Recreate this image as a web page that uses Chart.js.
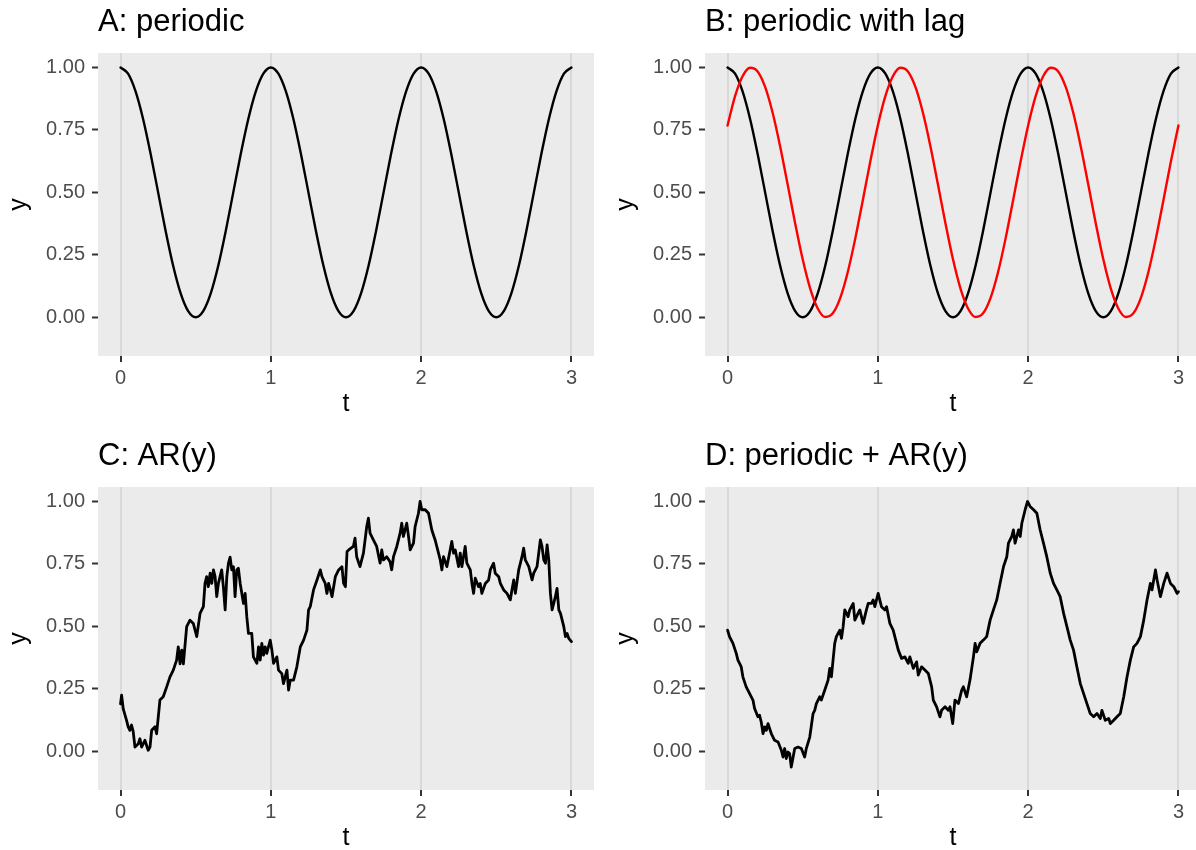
<!DOCTYPE html>
<html>
<head>
<meta charset="utf-8">
<script src="https://cdn.jsdelivr.net/npm/chart.js@4.4.1/dist/chart.umd.min.js"></script>
<style>
  body { margin: 0; background: #fff; width: 1196px; height: 850px; overflow: hidden; position: relative; }
  canvas { position: absolute; }
</style>
</head>
<body>
<canvas id="chartA" width="600" height="434" style="left:0px;top:0px"></canvas>
<canvas id="chartB" width="600" height="434" style="left:607px;top:0px"></canvas>
<canvas id="chartC" width="600" height="434" style="left:0px;top:434px"></canvas>
<canvas id="chartD" width="600" height="434" style="left:607px;top:434px"></canvas>
<script>
// axis ticks
const xTickValues = [0, 1, 2, 3];
const xTickLabels = ['0', '1', '2', '3'];
const yTickValues = [0, 0.25, 0.5, 0.75, 1];
const yTickLabels = ['0.00', '0.25', '0.50', '0.75', '1.00'];

// panels A and B: time grid and the two periodic curves
const tPeriodic = [
  0, 0.05, 0.1, 0.15, 0.2, 0.25, 0.3, 0.35, 0.4, 0.45,
  0.5, 0.55, 0.6, 0.65, 0.7, 0.75, 0.8, 0.85, 0.9, 0.95,
  1, 1.05, 1.1, 1.15, 1.2, 1.25, 1.3, 1.35, 1.4, 1.45,
  1.5, 1.55, 1.6, 1.65, 1.7, 1.75, 1.8, 1.85, 1.9, 1.95,
  2, 2.05, 2.1, 2.15, 2.2, 2.25, 2.3, 2.35, 2.4, 2.45,
  2.5, 2.55, 2.6, 2.65, 2.7, 2.75, 2.8, 2.85, 2.9, 2.95,
  3
];
const yPeriodic = [
  1, 0.9755, 0.9045, 0.7939, 0.6545, 0.5, 0.3455, 0.2061, 0.0955, 0.0245,
  0, 0.0245, 0.0955, 0.2061, 0.3455, 0.5, 0.6545, 0.7939, 0.9045, 0.9755,
  1, 0.9755, 0.9045, 0.7939, 0.6545, 0.5, 0.3455, 0.2061, 0.0955, 0.0245,
  0, 0.0245, 0.0955, 0.2061, 0.3455, 0.5, 0.6545, 0.7939, 0.9045, 0.9755,
  1, 0.9755, 0.9045, 0.7939, 0.6545, 0.5, 0.3455, 0.2061, 0.0955, 0.0245,
  0, 0.0245, 0.0955, 0.2061, 0.3455, 0.5, 0.6545, 0.7939, 0.9045, 0.9755,
  1
];
const yLagged = [
  0.7679, 0.8853, 0.9649, 0.999, 0.9843, 0.9222, 0.8187, 0.6841, 0.5314, 0.3757,
  0.2321, 0.1147, 0.0351, 0.001, 0.0157, 0.0778, 0.1813, 0.3159, 0.4686, 0.6243,
  0.7679, 0.8853, 0.9649, 0.999, 0.9843, 0.9222, 0.8187, 0.6841, 0.5314, 0.3757,
  0.2321, 0.1147, 0.0351, 0.001, 0.0157, 0.0778, 0.1813, 0.3159, 0.4686, 0.6243,
  0.7679, 0.8853, 0.9649, 0.999, 0.9843, 0.9222, 0.8187, 0.6841, 0.5314, 0.3757,
  0.2321, 0.1147, 0.0351, 0.001, 0.0157, 0.0778, 0.1813, 0.3159, 0.4686, 0.6243,
  0.7679
];

// panel C: AR(y)
const tAR = [
  0, 0.007, 0.018, 0.040, 0.051, 0.062, 0.073, 0.084, 0.096, 0.118,
  0.129, 0.140, 0.162, 0.184, 0.196, 0.207, 0.229, 0.240, 0.262, 0.284,
  0.307, 0.329, 0.351, 0.373, 0.384, 0.396, 0.407, 0.418, 0.440, 0.462,
  0.484, 0.507, 0.529, 0.551, 0.562, 0.573, 0.584, 0.596, 0.607, 0.618,
  0.629, 0.640, 0.651, 0.673, 0.684, 0.696, 0.707, 0.718, 0.729, 0.740,
  0.751, 0.762, 0.773, 0.784, 0.796, 0.818, 0.829, 0.840, 0.851, 0.873,
  0.884, 0.907, 0.918, 0.929, 0.940, 0.951, 0.962, 0.973, 0.996, 1.007,
  1.018, 1.040, 1.051, 1.073, 1.084, 1.107, 1.118, 1.129, 1.151, 1.173,
  1.196, 1.218, 1.240, 1.251, 1.262, 1.284, 1.307, 1.329, 1.340, 1.362,
  1.373, 1.384, 1.396, 1.407, 1.429, 1.451, 1.473, 1.484, 1.496, 1.507,
  1.518, 1.549, 1.560, 1.571, 1.593, 1.616, 1.638, 1.649, 1.660, 1.682,
  1.704, 1.727, 1.738, 1.749, 1.771, 1.793, 1.804, 1.816, 1.838, 1.860,
  1.871, 1.882, 1.904, 1.916, 1.927, 1.949, 1.960, 1.982, 1.993, 2.004,
  2.027, 2.049, 2.071, 2.093, 2.104, 2.127, 2.138, 2.149, 2.171, 2.193,
  2.204, 2.216, 2.227, 2.249, 2.260, 2.271, 2.293, 2.304, 2.327, 2.338,
  2.349, 2.360, 2.382, 2.393, 2.404, 2.427, 2.449, 2.460, 2.482, 2.493,
  2.516, 2.527, 2.549, 2.571, 2.593, 2.604, 2.616, 2.627, 2.649, 2.671,
  2.682, 2.693, 2.716, 2.738, 2.749, 2.771, 2.793, 2.804, 2.816, 2.827,
  2.838, 2.849, 2.860, 2.871, 2.882, 2.893, 2.904, 2.916, 2.927, 2.949,
  2.960, 2.971, 2.982, 3.000
];
const yAR = [
  0.19, 0.225, 0.17, 0.124, 0.098, 0.084, 0.105, 0.08, 0.017, 0.03,
  0.05, 0.017, 0.044, 0.004, 0.017, 0.084, 0.098, 0.07, 0.205, 0.218,
  0.258, 0.298, 0.325, 0.365, 0.418, 0.35, 0.405, 0.35, 0.499, 0.525,
  0.512, 0.459, 0.552, 0.579, 0.672, 0.699, 0.659, 0.713, 0.672, 0.726,
  0.699, 0.619, 0.672, 0.726, 0.659, 0.566, 0.699, 0.753, 0.777, 0.726,
  0.739, 0.619, 0.726, 0.733, 0.672, 0.592, 0.632, 0.539, 0.472, 0.472,
  0.378, 0.352, 0.418, 0.365, 0.432, 0.385, 0.418, 0.392, 0.445, 0.405,
  0.352, 0.378, 0.325, 0.311, 0.271, 0.325, 0.245, 0.285, 0.285, 0.338,
  0.418, 0.445, 0.485, 0.566, 0.579, 0.646, 0.686, 0.726, 0.699, 0.672,
  0.632, 0.672, 0.646, 0.619, 0.699, 0.726, 0.739, 0.672, 0.659, 0.8,
  0.806, 0.82, 0.853, 0.779, 0.739, 0.793, 0.9, 0.933, 0.873, 0.846,
  0.82, 0.753, 0.806, 0.766, 0.779, 0.759, 0.726, 0.779, 0.82, 0.873,
  0.913, 0.86, 0.913, 0.86, 0.806, 0.833, 0.9, 0.953, 1.0, 0.967,
  0.967, 0.953, 0.886, 0.846, 0.82, 0.766, 0.726, 0.779, 0.739, 0.806,
  0.84, 0.793, 0.806, 0.739, 0.793, 0.739, 0.82, 0.753, 0.726, 0.672,
  0.632, 0.693, 0.659, 0.672, 0.632, 0.672, 0.686, 0.726, 0.753, 0.713,
  0.699, 0.672, 0.646, 0.632, 0.606, 0.646, 0.686, 0.632, 0.726, 0.779,
  0.813, 0.766, 0.739, 0.686, 0.713, 0.739, 0.846, 0.82, 0.766, 0.753,
  0.826, 0.766, 0.632, 0.566, 0.592, 0.619, 0.652, 0.566, 0.552, 0.499,
  0.459, 0.472, 0.452, 0.439
];

// panel D: periodic + AR(y)
const tMix = [
  0, 0.013, 0.036, 0.058, 0.069, 0.080, 0.091, 0.102, 0.124, 0.147,
  0.169, 0.180, 0.202, 0.213, 0.224, 0.236, 0.247, 0.258, 0.269, 0.291,
  0.313, 0.336, 0.358, 0.369, 0.380, 0.391, 0.402, 0.413, 0.424, 0.447,
  0.469, 0.491, 0.513, 0.524, 0.547, 0.569, 0.580, 0.591, 0.613, 0.624,
  0.647, 0.669, 0.680, 0.691, 0.713, 0.724, 0.747, 0.758, 0.769, 0.780,
  0.802, 0.813, 0.836, 0.847, 0.858, 0.880, 0.902, 0.924, 0.936, 0.958,
  0.969, 0.980, 1.002, 1.024, 1.047, 1.058, 1.080, 1.102, 1.113, 1.136,
  1.158, 1.180, 1.202, 1.213, 1.236, 1.258, 1.269, 1.291, 1.313, 1.336,
  1.358, 1.369, 1.391, 1.413, 1.424, 1.447, 1.469, 1.480, 1.498, 1.513,
  1.536, 1.558, 1.569, 1.591, 1.613, 1.636, 1.647, 1.658, 1.680, 1.702,
  1.724, 1.747, 1.769, 1.791, 1.813, 1.836, 1.858, 1.869, 1.891, 1.902,
  1.913, 1.936, 1.947, 1.958, 1.980, 1.996, 2.013, 2.036, 2.058, 2.080,
  2.102, 2.124, 2.147, 2.169, 2.191, 2.213, 2.236, 2.258, 2.280, 2.302,
  2.324, 2.347, 2.369, 2.391, 2.413, 2.436, 2.458, 2.480, 2.491, 2.513,
  2.536, 2.547, 2.569, 2.591, 2.613, 2.636, 2.658, 2.680, 2.702, 2.724,
  2.747, 2.769, 2.791, 2.813, 2.824, 2.847, 2.858, 2.880, 2.902, 2.924,
  2.947, 2.969, 2.991, 3.000
];
const yMix = [
  0.485, 0.459, 0.432, 0.392, 0.365, 0.352, 0.338, 0.298, 0.258, 0.231,
  0.205, 0.171, 0.138, 0.144, 0.118, 0.071, 0.098, 0.084, 0.111, 0.071,
  0.044, 0.037, 0.004, -0.023, 0.011, -0.029, -0.003, -0.009, -0.063, 0.011,
  0.017, 0.011, -0.023, 0.011, 0.057, 0.151, 0.164, 0.191, 0.218, 0.205,
  0.245, 0.285, 0.332, 0.298, 0.432, 0.459, 0.485, 0.452, 0.499, 0.566,
  0.539, 0.566, 0.592, 0.525, 0.539, 0.566, 0.512, 0.566, 0.592, 0.592,
  0.606, 0.579, 0.632, 0.579, 0.566, 0.579, 0.512, 0.485, 0.459, 0.405,
  0.372, 0.378, 0.352, 0.378, 0.332, 0.358, 0.305, 0.338, 0.325, 0.311,
  0.258, 0.205, 0.178, 0.138, 0.164, 0.178, 0.164, 0.178, 0.111, 0.205,
  0.191, 0.245, 0.258, 0.218, 0.285, 0.378, 0.432, 0.398, 0.432, 0.445,
  0.459, 0.525, 0.566, 0.606, 0.672, 0.739, 0.779, 0.833, 0.86, 0.886,
  0.833, 0.886, 0.86, 0.913, 0.967, 1.0, 0.98, 0.967, 0.953, 0.886,
  0.833, 0.779, 0.713, 0.672, 0.646, 0.619, 0.552, 0.499, 0.445, 0.405,
  0.338, 0.271, 0.231, 0.191, 0.151, 0.138, 0.151, 0.131, 0.164, 0.124,
  0.131, 0.111, 0.124, 0.138, 0.151, 0.218, 0.298, 0.365, 0.418, 0.432,
  0.459, 0.525, 0.606, 0.672, 0.646, 0.726, 0.686, 0.619, 0.672, 0.713,
  0.672, 0.659, 0.632, 0.639
];

const FONT = "'Liberation Sans', Arial, Helvetica, sans-serif";

function toPoints(ts, ys) {
  return ts.map((t, i) => ({ x: t, y: ys[i] }));
}

// grey panel background like ggplot
const panelBg = {
  id: 'panelBg',
  beforeDraw(chart) {
    const { ctx, chartArea: a } = chart;
    ctx.save();
    ctx.fillStyle = '#EBEBEB';
    ctx.fillRect(a.left, a.top, a.right - a.left, a.bottom - a.top);
    ctx.restore();
  }
};

function makePanel(id, title, datasets) {
  new Chart(document.getElementById(id), {
    type: 'line',
    data: { datasets: datasets },
    options: {
      responsive: false,
      animation: false,
      devicePixelRatio: 1,
      layout: { padding: { left: 0, right: 6, top: 0, bottom: 0 } },
      elements: { point: { radius: 0 } },
      plugins: {
        legend: { display: false },
        tooltip: { enabled: false },
        title: {
          display: true,
          text: title,
          align: 'start',
          fullSize: false,
          color: '#000',
          font: { family: FONT, size: 31, weight: 'normal', lineHeight: '37px' },
          padding: { top: 4, bottom: 12 }
        }
      },
      scales: {
        x: {
          type: 'linear',
          min: -0.15,
          max: 3.15,
          afterBuildTicks: s => { s.ticks = xTickValues.map(v => ({ value: v })); },
          afterFit: s => { s.height = 78; },
          border: { display: false },
          grid: { color: '#D9D9D9', lineWidth: 2, tickColor: '#333333', tickWidth: 2, tickLength: 6 },
          ticks: {
            color: '#4D4D4D',
            font: { family: FONT, size: 20 },
            padding: 4,
            maxRotation: 0,
            autoSkip: false,
            callback: (v, i) => xTickLabels[i]
          },
          title: {
            display: true,
            text: 't',
            color: '#000',
            font: { family: FONT, size: 25 },
            padding: { top: 0, bottom: 15 }
          }
        },
        y: {
          min: -0.155,
          max: 1.058,
          afterBuildTicks: s => { s.ticks = yTickValues.map(v => ({ value: v })); },
          afterFit: s => { s.width = 98; },
          border: { display: false },
          grid: { drawOnChartArea: false, tickColor: '#333333', tickWidth: 2, tickLength: 6 },
          ticks: {
            color: '#4D4D4D',
            font: { family: FONT, size: 20 },
            padding: 7,
            autoSkip: false,
            callback: (v, i) => yTickLabels[i]
          },
          title: {
            display: true,
            text: 'y',
            color: '#000',
            font: { family: FONT, size: 25 },
            padding: { top: 4, bottom: 0 }
          }
        }
      }
    },
    plugins: [panelBg]
  });
}

function lineSet(points, colour, smooth, width) {
  return {
    data: points,
    borderColor: colour,
    borderWidth: width,
    borderJoinStyle: 'round',
    borderCapStyle: 'round',
    fill: false,
    cubicInterpolationMode: smooth ? 'monotone' : 'default',
    tension: 0
  };
}

makePanel('chartA', 'A: periodic', [
  lineSet(toPoints(tPeriodic, yPeriodic), '#000000', true, 2.4)
]);
makePanel('chartB', 'B: periodic with lag', [
  lineSet(toPoints(tPeriodic, yLagged), '#FF0000', true, 2.4),
  lineSet(toPoints(tPeriodic, yPeriodic), '#000000', true, 2.4)
]);
makePanel('chartC', 'C: AR(y)', [
  lineSet(toPoints(tAR, yAR), '#000000', false, 2.8)
]);
makePanel('chartD', 'D: periodic + AR(y)', [
  lineSet(toPoints(tMix, yMix), '#000000', false, 2.8)
]);
</script>
</body>
</html>
